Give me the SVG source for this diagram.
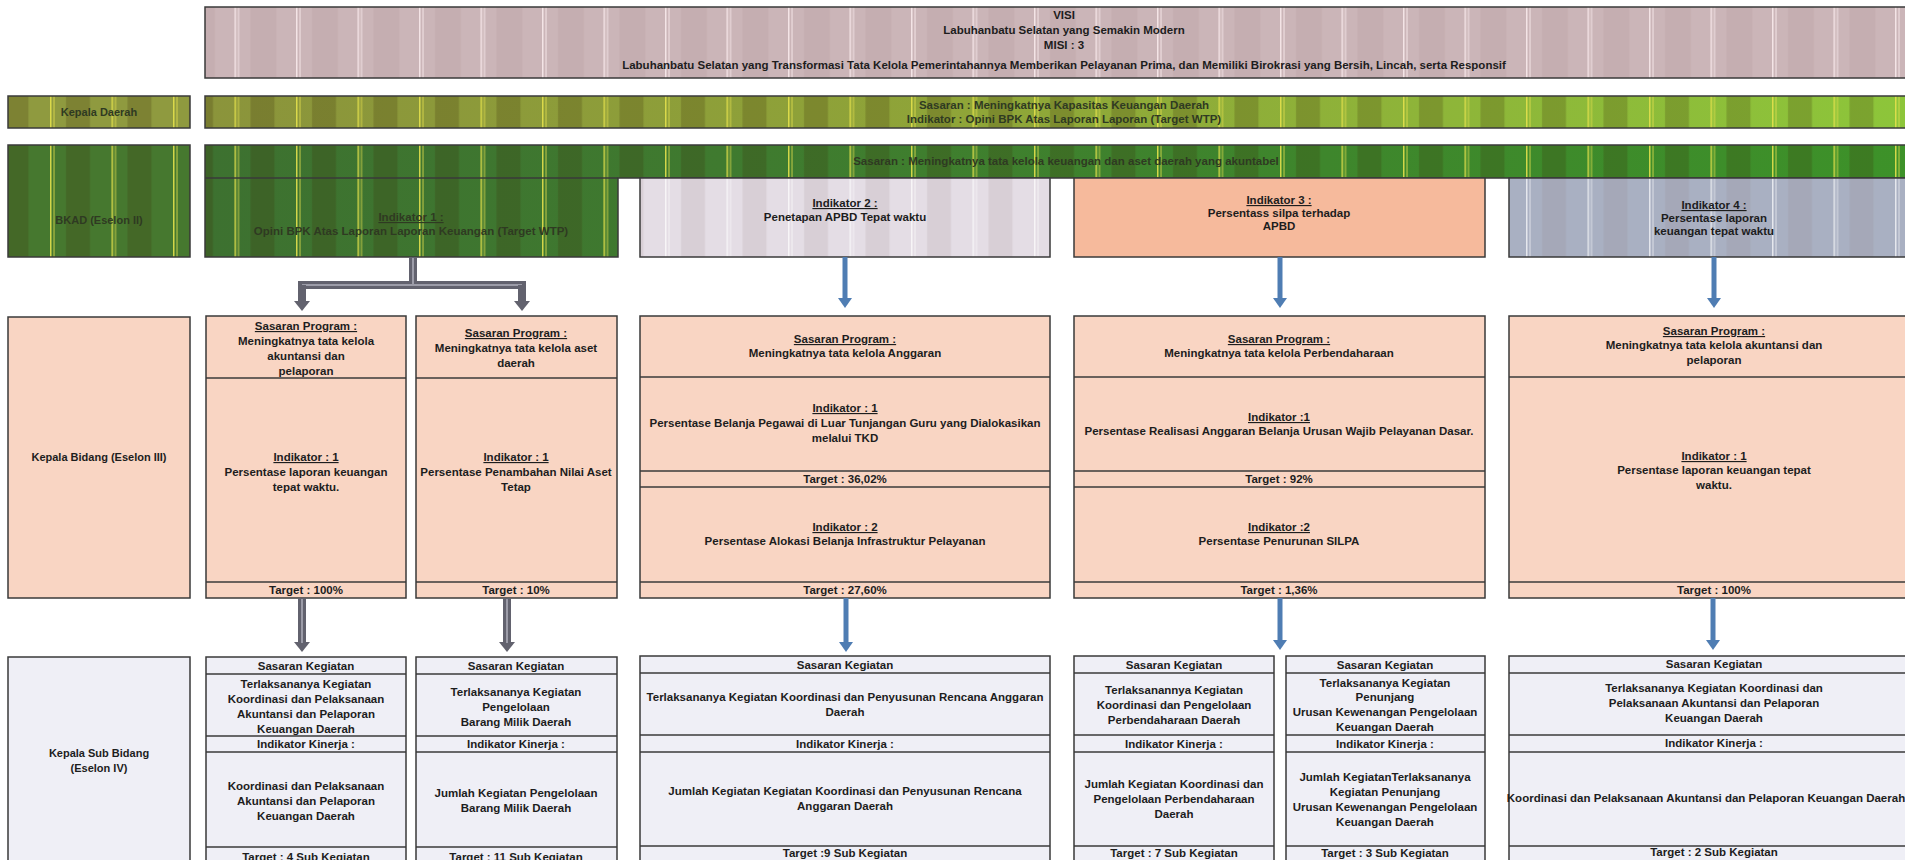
<svg xmlns="http://www.w3.org/2000/svg" width="1905" height="860" viewBox="0 0 1905 860">
<defs>
<style>
.t{font-family:"Liberation Sans",Arial,sans-serif;font-weight:bold;font-size:11.5px;fill:#1d1d1d;text-anchor:middle}
.s{font-size:11px}
.u{text-decoration:underline}
.dk{fill:#2f3a22}
.bx{stroke:#3a3a3a;stroke-width:1.5}
.ln{stroke:#3a3a3a;stroke-width:1.5;fill:none}
.sp{fill:#f9d5c3}
.kg{fill:#efeff6}
.blue{stroke:#4f7db3;stroke-width:5;fill:none}
.gray{stroke:#62626e;stroke-width:8;fill:none}
.grayin{stroke:#9c9ca8;stroke-width:2;fill:none}
</style>
<linearGradient id="gOlive" x1="0" x2="1" y1="0" y2="0">
<stop offset="0" stop-color="#8b943b"/>
<stop offset="0.45" stop-color="#8fa538"/>
<stop offset="1" stop-color="#8dc63a"/>
</linearGradient>
<linearGradient id="gDark" x1="0" x2="1" y1="0" y2="0">
<stop offset="0" stop-color="#3d7130"/>
<stop offset="0.3" stop-color="#3f7a2f"/>
<stop offset="1" stop-color="#3d9229"/>
</linearGradient>
<pattern id="pVisi" x="50" y="0" width="61.5" height="20" patternUnits="userSpaceOnUse">
<rect x="16" width="26" height="20" fill="#9c7c80" opacity="0.12"/>
<rect x="0" width="1.5" height="20" fill="#f4e4e6"/>
<rect x="3.5" width="1" height="20" fill="#f4e4e6"/>
</pattern>
<pattern id="pGreen" x="50" y="0" width="61.5" height="20" patternUnits="userSpaceOnUse">
<rect x="16" width="24" height="20" fill="#3a2c0a" opacity="0.22"/>
<rect x="0" width="1.5" height="20" fill="#e4e04c" opacity="0.9"/>
<rect x="3.5" width="1" height="20" fill="#e4e04c" opacity="0.8"/>
</pattern>
<pattern id="pLight" x="50" y="0" width="61.5" height="20" patternUnits="userSpaceOnUse">
<rect x="16" width="24" height="20" fill="#8a7070" opacity="0.13"/>
<rect x="0" width="1.5" height="20" fill="#ffffff" opacity="0.7"/>
<rect x="3.5" width="1" height="20" fill="#ffffff" opacity="0.6"/>
</pattern>
<marker id="mb" viewBox="0 0 10 14" refX="1" refY="7" markerWidth="10" markerHeight="14" markerUnits="userSpaceOnUse" orient="auto">
<path d="M0,0 L10,7 L0,14 Z" fill="#4f7db3"/>
</marker>
<marker id="mg" viewBox="0 0 10 16" refX="1" refY="8" markerWidth="10" markerHeight="16" markerUnits="userSpaceOnUse" orient="auto">
<path d="M0,0 L10,8 L0,16 Z" fill="#62626e"/>
</marker>
</defs>
<rect width="1905" height="860" fill="#ffffff"/>

<g id="visi">
<rect x="205" y="7" width="1720" height="71" fill="#cbb5b8"/>
<rect x="205" y="7" width="1720" height="71" fill="url(#pVisi)" class="bx"/>
<text class="t" x="1064" y="19">VISI</text>
<text class="t" x="1064" y="34">Labuhanbatu Selatan yang Semakin Modern</text>
<text class="t" x="1064" y="49">MISI : 3</text>
<text class="t" x="1064" y="69">Labuhanbatu Selatan yang Transformasi Tata Kelola Pemerintahannya Memberikan Pelayanan Prima, dan Memiliki Birokrasi yang Bersih, Lincah, serta Responsif</text>
</g>

<g id="kepala-daerah">
<rect x="8" y="96" width="182" height="32" fill="#8f9a3f"/>
<rect x="8" y="96" width="182" height="32" fill="url(#pGreen)" class="bx"/>
<text class="t s dk" x="99" y="116">Kepala Daerah</text>
</g>

<g id="sasaran-daerah">
<rect x="205" y="96" width="1720" height="32" fill="url(#gOlive)"/>
<rect x="205" y="96" width="1720" height="32" fill="url(#pGreen)" class="bx"/>
<text class="t dk" x="1064" y="109">Sasaran  : Meningkatnya Kapasitas Keuangan Daerah</text>
<text class="t dk" x="1064" y="123">Indikator : Opini BPK Atas Laporan Laporan (Target WTP)</text>
</g>

<g id="bkad">
<rect x="8" y="145" width="182" height="112" fill="#46782f"/>
<rect x="8" y="145" width="182" height="112" fill="url(#pGreen)" class="bx"/>
<text class="t s dk" x="99" y="224">BKAD (Eselon II)</text>
</g>

<g id="sasaran-bkad">
<path d="M205,145 H1925 V178 H618 V257 H205 Z" fill="url(#gDark)"/>
<path d="M205,145 H1925 V178 H618 V257 H205 Z" fill="url(#pGreen)" class="bx"/>
<line x1="205" y1="178" x2="618" y2="178" class="ln"/>
<text class="t dk" x="1066" y="165">Sasaran  :  Meningkatnya tata kelola keuangan dan aset daerah yang akuntabel</text>
</g>

<g id="indikator-1">
<text class="t u dk" x="411" y="221">Indikator 1 :</text>
<text class="t dk" x="411" y="235">Opini BPK Atas Laporan Laporan Keuangan  (Target WTP)</text>
</g>

<g id="indikator-2">
<rect x="640" y="178" width="410" height="79" fill="#e4dde5"/>
<rect x="640" y="178" width="410" height="79" fill="url(#pLight)" class="bx"/>
<text class="t u" x="845" y="207">Indikator 2 :</text>
<text class="t" x="845" y="221">Penetapan APBD Tepat waktu</text>
</g>

<g id="indikator-3">
<rect x="1074" y="178" width="411" height="79" fill="#f6ba9c" class="bx"/>
<text class="t u" x="1279" y="204">Indikator 3 :</text>
<text class="t" x="1279" y="217">Persentass silpa terhadap</text>
<text class="t" x="1279" y="230">APBD</text>
</g>

<g id="indikator-4">
<rect x="1509" y="178" width="416" height="79" fill="#a9b0c2"/>
<rect x="1509" y="178" width="416" height="79" fill="url(#pLight)" class="bx"/>
<text class="t u" x="1714" y="209">Indikator 4 :</text>
<text class="t" x="1714" y="222">Persentase laporan</text>
<text class="t" x="1714" y="235">keuangan tepat waktu</text>
</g>

<g id="kepala-bidang">
<rect x="8" y="317" width="182" height="281" class="sp bx"/>
<text class="t s" x="99" y="461">Kepala Bidang (Eselon III)</text>
</g>

<g id="sp1">
<rect x="206" y="316" width="200" height="282" class="sp bx"/>
<line x1="206" y1="378" x2="406" y2="378" class="ln"/>
<line x1="206" y1="582" x2="406" y2="582" class="ln"/>
<text class="t u" x="306" y="330">Sasaran Program :</text>
<text class="t" x="306" y="345">Meningkatnya tata  kelola</text>
<text class="t" x="306" y="360">akuntansi dan</text>
<text class="t" x="306" y="375">pelaporan</text>
<text class="t u" x="306" y="461">Indikator : 1 </text>
<text class="t" x="306" y="476">Persentase laporan keuangan</text>
<text class="t" x="306" y="491">tepat waktu.</text>
<text class="t" x="306" y="594">Target : 100%</text>
</g>

<g id="sp2">
<rect x="416" y="316" width="201" height="282" class="sp bx"/>
<line x1="416" y1="378" x2="617" y2="378" class="ln"/>
<line x1="416" y1="582" x2="617" y2="582" class="ln"/>
<text class="t u" x="516" y="337">Sasaran Program :</text>
<text class="t" x="516" y="352">Meningkatnya tata kelola aset</text>
<text class="t" x="516" y="367">daerah</text>
<text class="t u" x="516" y="461">Indikator : 1</text>
<text class="t" x="516" y="476">Persentase Penambahan Nilai Aset</text>
<text class="t" x="516" y="491">Tetap</text>
<text class="t" x="516" y="594">Target : 10%</text>
</g>

<g id="sp3">
<rect x="640" y="316" width="410" height="282" class="sp bx"/>
<line x1="640" y1="377" x2="1050" y2="377" class="ln"/>
<line x1="640" y1="471" x2="1050" y2="471" class="ln"/>
<line x1="640" y1="487" x2="1050" y2="487" class="ln"/>
<line x1="640" y1="582" x2="1050" y2="582" class="ln"/>
<text class="t u" x="845" y="343">Sasaran Program :</text>
<text class="t" x="845" y="357">Meningkatnya tata kelola Anggaran</text>
<text class="t u" x="845" y="412">Indikator : 1</text>
<text class="t" x="845" y="427">Persentase Belanja Pegawai di Luar Tunjangan Guru yang Dialokasikan</text>
<text class="t" x="845" y="442">melalui TKD</text>
<text class="t" x="845" y="483">Target :  36,02%</text>
<text class="t u" x="845" y="531">Indikator : 2</text>
<text class="t" x="845" y="545">Persentase Alokasi Belanja Infrastruktur Pelayanan</text>
<text class="t" x="845" y="594">Target :  27,60%</text>
</g>

<g id="sp4">
<rect x="1074" y="316" width="411" height="282" class="sp bx"/>
<line x1="1074" y1="377" x2="1485" y2="377" class="ln"/>
<line x1="1074" y1="471" x2="1485" y2="471" class="ln"/>
<line x1="1074" y1="487" x2="1485" y2="487" class="ln"/>
<line x1="1074" y1="582" x2="1485" y2="582" class="ln"/>
<text class="t u" x="1279" y="343">Sasaran Program :</text>
<text class="t" x="1279" y="357">Meningkatnya tata kelola Perbendaharaan</text>
<text class="t u" x="1279" y="421">Indikator :1</text>
<text class="t" x="1279" y="435">Persentase Realisasi Anggaran Belanja Urusan Wajib Pelayanan Dasar.</text>
<text class="t" x="1279" y="483">Target :  92%</text>
<text class="t u" x="1279" y="531">Indikator :2</text>
<text class="t" x="1279" y="545">Persentase Penurunan SILPA</text>
<text class="t" x="1279" y="594">Target :  1,36%</text>
</g>

<g id="sp5">
<rect x="1509" y="316" width="416" height="282" class="sp bx"/>
<line x1="1509" y1="377" x2="1925" y2="377" class="ln"/>
<line x1="1509" y1="582" x2="1925" y2="582" class="ln"/>
<text class="t u" x="1714" y="335">Sasaran Program :</text>
<text class="t" x="1714" y="349">Meningkatnya tata  kelola akuntansi dan</text>
<text class="t" x="1714" y="364">pelaporan</text>
<text class="t u" x="1714" y="460">Indikator : 1 </text>
<text class="t" x="1714" y="474">Persentase laporan keuangan tepat</text>
<text class="t" x="1714" y="489">waktu.</text>
<text class="t" x="1714" y="594">Target : 100%</text>
</g>

<g id="kepala-sub-bidang">
<rect x="8" y="657" width="182" height="220" class="kg bx"/>
<text class="t s" x="99" y="757">Kepala Sub Bidang</text>
<text class="t s" x="99" y="772">(Eselon IV)</text>
</g>

<g id="k1">
<rect x="206" y="657" width="200" height="220" class="kg bx"/>
<line x1="206" y1="674" x2="406" y2="674" class="ln"/>
<line x1="206" y1="736" x2="406" y2="736" class="ln"/>
<line x1="206" y1="752" x2="406" y2="752" class="ln"/>
<line x1="206" y1="847" x2="406" y2="847" class="ln"/>
<text class="t" x="306" y="670">Sasaran Kegiatan</text>
<text class="t" x="306" y="688">Terlaksananya Kegiatan</text>
<text class="t" x="306" y="703">Koordinasi dan Pelaksanaan</text>
<text class="t" x="306" y="718">Akuntansi dan Pelaporan</text>
<text class="t" x="306" y="733">Keuangan Daerah</text>
<text class="t" x="306" y="748">Indikator Kinerja :</text>
<text class="t" x="306" y="790">Koordinasi dan Pelaksanaan</text>
<text class="t" x="306" y="805">Akuntansi dan Pelaporan</text>
<text class="t" x="306" y="820">Keuangan Daerah</text>
<text class="t" x="306" y="861">Target :  4 Sub Kegiatan</text>
</g>

<g id="k2">
<rect x="416" y="657" width="201" height="220" class="kg bx"/>
<line x1="416" y1="674" x2="617" y2="674" class="ln"/>
<line x1="416" y1="736" x2="617" y2="736" class="ln"/>
<line x1="416" y1="752" x2="617" y2="752" class="ln"/>
<line x1="416" y1="847" x2="617" y2="847" class="ln"/>
<text class="t" x="516" y="670">Sasaran Kegiatan</text>
<text class="t" x="516" y="696">Terlaksananya Kegiatan</text>
<text class="t" x="516" y="711">Pengelolaan</text>
<text class="t" x="516" y="726">Barang Milik Daerah</text>
<text class="t" x="516" y="748">Indikator Kinerja :</text>
<text class="t" x="516" y="797">Jumlah  Kegiatan Pengelolaan</text>
<text class="t" x="516" y="812">Barang Milik Daerah</text>
<text class="t" x="516" y="861">Target : 11 Sub Kegiatan</text>
</g>

<g id="k3">
<rect x="640" y="656" width="410" height="220" class="kg bx"/>
<line x1="640" y1="673" x2="1050" y2="673" class="ln"/>
<line x1="640" y1="735" x2="1050" y2="735" class="ln"/>
<line x1="640" y1="752" x2="1050" y2="752" class="ln"/>
<line x1="640" y1="846" x2="1050" y2="846" class="ln"/>
<text class="t" x="845" y="669">Sasaran Kegiatan</text>
<text class="t" x="845" y="701">Terlaksananya Kegiatan Koordinasi dan Penyusunan Rencana Anggaran</text>
<text class="t" x="845" y="716">Daerah</text>
<text class="t" x="845" y="748">Indikator Kinerja :</text>
<text class="t" x="845" y="795">Jumlah Kegiatan Kegiatan Koordinasi dan Penyusunan Rencana</text>
<text class="t" x="845" y="810">Anggaran Daerah</text>
<text class="t" x="845" y="857">Target :9 Sub Kegiatan</text>
</g>

<g id="k4">
<rect x="1074" y="656" width="200" height="220" class="kg bx"/>
<line x1="1074" y1="673" x2="1274" y2="673" class="ln"/>
<line x1="1074" y1="735" x2="1274" y2="735" class="ln"/>
<line x1="1074" y1="752" x2="1274" y2="752" class="ln"/>
<line x1="1074" y1="846" x2="1274" y2="846" class="ln"/>
<text class="t" x="1174" y="669">Sasaran Kegiatan</text>
<text class="t" x="1174" y="694">Terlaksanannya Kegiatan</text>
<text class="t" x="1174" y="709">Koordinasi dan Pengelolaan</text>
<text class="t" x="1174" y="724">Perbendaharaan Daerah</text>
<text class="t" x="1174" y="748">Indikator Kinerja :</text>
<text class="t" x="1174" y="788">Jumlah Kegiatan Koordinasi dan</text>
<text class="t" x="1174" y="803">Pengelolaan Perbendaharaan</text>
<text class="t" x="1174" y="818">Daerah</text>
<text class="t" x="1174" y="857">Target : 7 Sub Kegiatan</text>
</g>

<g id="k5">
<rect x="1286" y="656" width="199" height="220" class="kg bx"/>
<line x1="1286" y1="673" x2="1485" y2="673" class="ln"/>
<line x1="1286" y1="735" x2="1485" y2="735" class="ln"/>
<line x1="1286" y1="752" x2="1485" y2="752" class="ln"/>
<line x1="1286" y1="846" x2="1485" y2="846" class="ln"/>
<text class="t" x="1385" y="669">Sasaran Kegiatan</text>
<text class="t" x="1385" y="687">Terlaksananya Kegiatan</text>
<text class="t" x="1385" y="701">Penunjang</text>
<text class="t" x="1385" y="716">Urusan Kewenangan Pengelolaan</text>
<text class="t" x="1385" y="731">Keuangan Daerah</text>
<text class="t" x="1385" y="748">Indikator Kinerja :</text>
<text class="t" x="1385" y="781">Jumlah KegiatanTerlaksananya</text>
<text class="t" x="1385" y="796">Kegiatan Penunjang</text>
<text class="t" x="1385" y="811">Urusan Kewenangan Pengelolaan</text>
<text class="t" x="1385" y="826">Keuangan Daerah</text>
<text class="t" x="1385" y="857">Target : 3 Sub Kegiatan</text>
</g>

<g id="k6">
<rect x="1509" y="656" width="416" height="220" class="kg bx"/>
<line x1="1509" y1="673" x2="1925" y2="673" class="ln"/>
<line x1="1509" y1="735" x2="1925" y2="735" class="ln"/>
<line x1="1509" y1="752" x2="1925" y2="752" class="ln"/>
<line x1="1509" y1="846" x2="1925" y2="846" class="ln"/>
<text class="t" x="1714" y="668">Sasaran Kegiatan</text>
<text class="t" x="1714" y="692">Terlaksananya Kegiatan Koordinasi dan</text>
<text class="t" x="1714" y="707">Pelaksanaan Akuntansi dan Pelaporan</text>
<text class="t" x="1714" y="722">Keuangan Daerah</text>
<text class="t" x="1714" y="747">Indikator Kinerja :</text>
<text class="t" x="1706" y="802" font-size="11">Koordinasi dan Pelaksanaan Akuntansi dan Pelaporan Keuangan Daerah</text>
<text class="t" x="1714" y="856">Target : 2 Sub Kegiatan</text>
</g>

<g id="connectors">
<path d="M413,257 V285 M298,285 H526" class="gray"/>
<path d="M413,258 V285 M302,285 H522" class="grayin"/>
<path d="M302,285 V302" class="gray" marker-end="url(#mg)"/>
<path d="M522,285 V302" class="gray" marker-end="url(#mg)"/>
<path d="M302,598 V643" class="gray" marker-end="url(#mg)"/>
<path d="M302,599 V643" class="grayin"/>
<path d="M507,598 V643" class="gray" marker-end="url(#mg)"/>
<path d="M507,599 V643" class="grayin"/>
<path d="M845,257 V299" class="blue" marker-end="url(#mb)"/>
<path d="M1280,257 V299" class="blue" marker-end="url(#mb)"/>
<path d="M1714,257 V299" class="blue" marker-end="url(#mb)"/>
<path d="M846,598 V643" class="blue" marker-end="url(#mb)"/>
<path d="M1280,598 V641" class="blue" marker-end="url(#mb)"/>
<path d="M1713,598 V641" class="blue" marker-end="url(#mb)"/>
</g>
</svg>
